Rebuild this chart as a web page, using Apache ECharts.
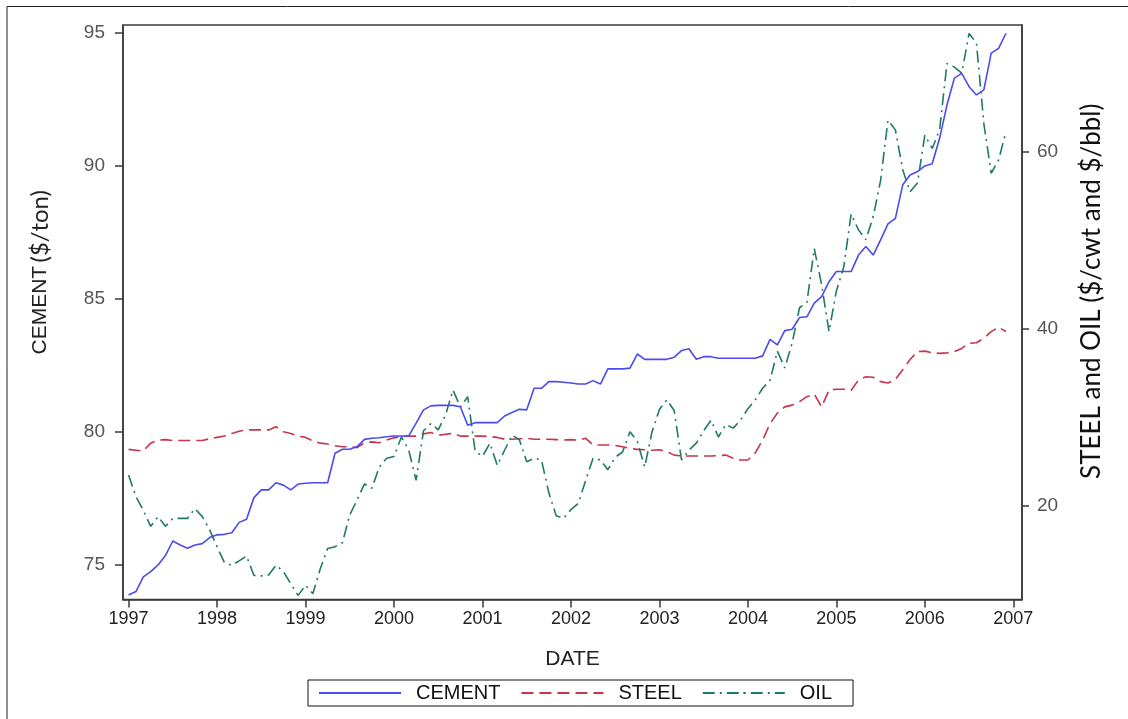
<!DOCTYPE html>
<html>
<head>
<meta charset="utf-8">
<script src="https://cdn.jsdelivr.net/npm/echarts@6/dist/echarts.min.js"></script>
<style>
  html, body { margin: 0; padding: 0; background: #fff; }
  #chart { width: 1128px; height: 719px; }
</style>
</head>
<body>
<div id="chart"></div>
<script>
// Monthly prices, January 1997 through December 2006
const startYear = 1997;
const monthCount = 120;

// Cement, $/ton (left axis)
const cement = [
  73.87, 74.0, 74.55, 74.75, 75.0, 75.35, 75.9, 75.75, 75.63, 75.75, 75.8, 76.03,
  76.13, 76.15, 76.21, 76.6, 76.72, 77.53, 77.82, 77.82, 78.09, 78.0, 77.82, 78.04,
  78.07, 78.09, 78.09, 78.09, 79.2, 79.35, 79.35, 79.45, 79.72, 79.76, 79.78, 79.82,
  79.85, 79.85, 79.85, 80.33, 80.83, 80.98, 81.0, 81.0, 81.0, 80.95, 80.25, 80.35,
  80.35, 80.35, 80.35, 80.6, 80.73, 80.85, 80.83, 81.64, 81.64, 81.89, 81.89, 81.87,
  81.84, 81.8, 81.8, 81.93, 81.8, 82.37, 82.37, 82.37, 82.4, 82.93, 82.73, 82.73,
  82.73, 82.73, 82.81, 83.06, 83.13, 82.73, 82.83, 82.83, 82.77, 82.77, 82.77, 82.77,
  82.77, 82.77, 82.86, 83.48, 83.27, 83.81, 83.86, 84.3, 84.33, 84.84, 85.09, 85.65,
  86.03, 86.03, 86.03, 86.65, 86.97, 86.65, 87.22, 87.82, 88.03, 89.29, 89.66, 89.79,
  90.0, 90.08, 91.04, 92.29, 93.3, 93.48, 92.98, 92.67, 92.86, 94.24, 94.42, 94.99
];

// Steel, $/cwt (right axis)
const steel = [
  26.4, 26.3, 26.2, 27.1, 27.45, 27.5, 27.4, 27.4, 27.4, 27.4, 27.4, 27.6,
  27.75, 27.9, 28.2, 28.45, 28.6, 28.6, 28.6, 28.6, 28.95, 28.4, 28.2, 27.9,
  27.75, 27.35, 27.1, 27.0, 26.8, 26.7, 26.7, 26.6, 27.15, 27.25, 27.15, 27.45,
  27.7, 27.85, 27.9, 27.9, 28.15, 28.3, 28.0, 28.1, 28.2, 27.9, 27.9, 27.9,
  27.9, 27.85, 27.75, 27.55, 27.55, 27.6, 27.65, 27.55, 27.55, 27.55, 27.5, 27.45,
  27.5, 27.45, 27.65, 26.9, 26.9, 26.9, 26.85, 26.7, 26.5, 26.4, 26.35, 26.3,
  26.35, 26.15, 25.75, 25.65, 25.65, 25.65, 25.65, 25.65, 25.7, 25.75, 25.4, 25.2,
  25.2, 26.0, 27.45, 29.3, 30.5, 31.2, 31.4, 31.8, 32.35, 32.65, 31.2, 33.1,
  33.2, 33.2, 33.05, 34.25, 34.6, 34.55, 34.05, 33.9, 34.3, 35.4, 36.55, 37.45,
  37.5, 37.3, 37.25, 37.3, 37.45, 37.8, 38.4, 38.45, 38.95, 39.7, 40.2, 39.7
];

// Crude oil, $/bbl (right axis)
const oil = [
  23.5, 21.05, 19.5, 17.7, 18.8, 17.7, 18.6, 18.6, 18.6, 19.7, 18.8, 17.3,
  15.4, 13.6, 13.3, 13.8, 14.35, 12.15, 12.1, 12.2, 13.3, 12.6, 11.2, 9.9,
  11.05, 10.1, 12.9, 15.2, 15.4, 15.85, 19.0, 20.7, 22.5, 22.0, 24.4, 25.4,
  25.6, 27.8, 26.3, 22.9, 28.5, 29.3, 28.6, 30.3, 33.1, 31.2, 32.35, 26.2,
  25.6, 27.1, 24.6, 26.3, 28.0, 27.5, 25.0, 25.4, 25.2, 21.5, 18.9, 18.6,
  19.6, 20.3, 22.9, 25.4, 25.2, 24.1, 25.5, 26.1, 28.4, 27.3, 24.4, 28.4,
  30.9, 32.0, 30.8, 25.2, 26.3, 27.1, 28.5, 29.7, 27.8, 29.2, 28.8, 29.7,
  31.0, 32.0, 33.3, 34.2, 37.5, 35.6, 38.4, 42.4, 43.0, 49.1, 45.0, 39.7,
  44.3, 47.0, 53.0, 51.2, 50.1, 52.7, 56.8, 63.6, 62.5, 58.0, 55.5, 56.5,
  61.9, 60.4, 62.5, 70.0, 69.6, 68.9, 73.4, 72.3, 63.2, 57.6, 59.1, 62.3
];

// Tick labels
const yearTicks = [1997, 1998, 1999, 2000, 2001, 2002, 2003, 2004, 2005, 2006, 2007];
const cementTicks = [75, 80, 85, 90, 95];
const steelOilTicks = [20, 40, 60];

// Decimal year for each month
const dates = [];
for (let i = 0; i < monthCount; i++) dates.push(startYear + i / 12);
const pairs = vals => vals.map((v, i) => [dates[i], v]);

const sans = '"Liberation Sans", Arial, sans-serif';
const calibriLike = 'Lato, Carlito, "Noto Sans", sans-serif';
const axisColor = '#3a3a3a';

const chart = echarts.init(document.getElementById('chart'), null, { renderer: 'canvas' });

chart.setOption({
  animation: false,
  backgroundColor: '#fff',
  graphic: [{
    type: 'polyline',
    shape: { points: [[7, 740], [7, 6.5], [1140, 6.5]] },
    style: { stroke: '#222', lineWidth: 1, fill: null },
    silent: true
  }],
  grid: {
    left: 123, top: 25, right: 106, bottom: 119.5,
    show: true, borderColor: axisColor, borderWidth: 1.5, backgroundColor: 'transparent'
  },
  legend: {
    left: 308, top: 680,
    orient: 'horizontal',
    itemWidth: 82, itemHeight: 2, itemGap: 20,
    padding: [3, 21, 3, 10],
    borderColor: '#111', borderWidth: 1, borderRadius: 0,
    formatter: name => '{t|' + name + '}',
    textStyle: {
      rich: { t: { fontFamily: sans, fontSize: 20, color: '#111', padding: [0, 0, 0, 10], lineHeight: 22 } }
    },
    data: ['CEMENT', 'STEEL', 'OIL']
  },
  xAxis: {
    type: 'value',
    min: 1996.937, max: 2007.098,
    name: 'DATE', nameLocation: 'middle', nameGap: 49,
    nameTextStyle: { fontFamily: sans, fontSize: 21, color: '#222' },
    axisLine: { show: true, lineStyle: { color: axisColor, width: 1.5 } },
    axisTick: { show: true, length: 8, customValues: yearTicks, lineStyle: { color: axisColor, width: 1.5 } },
    axisLabel: { customValues: yearTicks, margin: 11, fontFamily: sans, fontSize: 18, color: '#222',
                 formatter: v => String(Math.round(v)) },
    splitLine: { show: false }
  },
  yAxis: [{
    type: 'value',
    min: 73.70, max: 95.30,
    position: 'left',
    name: '{a|CEMENT} {b|($/ton)}',
    nameLocation: 'middle', nameGap: 71, nameRotate: 90,
    nameTextStyle: {
      padding: [0, 0, 0, 80],
      rich: {
        a: { fontFamily: sans, fontSize: 21, color: '#222' },
        b: { fontFamily: calibriLike, fontSize: 24, color: '#222' }
      }
    },
    axisLine: { show: true, lineStyle: { color: axisColor, width: 1.5 } },
    axisTick: { show: true, length: 8, customValues: cementTicks, lineStyle: { color: axisColor, width: 1.5 } },
    axisLabel: { customValues: cementTicks, margin: 18, fontFamily: sans,
                 fontSize: 19, color: '#555' },
    splitLine: { show: false }
  }, {
    type: 'value',
    min: 9.435, max: 74.35,
    position: 'right',
    name: 'STEEL and OIL ($/cwt and $/bbl)',
    nameLocation: 'middle', nameGap: 57, nameRotate: 90,
    nameTextStyle: { fontFamily: calibriLike, fontSize: 26, color: '#111', padding: [0, 0, 0, 42] },
    axisLine: { show: true, lineStyle: { color: axisColor, width: 1.5 } },
    axisTick: { show: true, length: 7, customValues: steelOilTicks, lineStyle: { color: axisColor, width: 1.5 } },
    axisLabel: { customValues: steelOilTicks, margin: 15, fontFamily: sans,
                 fontSize: 19, color: '#555' },
    splitLine: { show: false }
  }],
  series: [{
    name: 'CEMENT', type: 'line', yAxisIndex: 0,
    data: pairs(cement), showSymbol: false, symbol: 'none',
    color: '#4b4bf0',
    lineStyle: { color: '#4b4bf0', width: 1.6, type: 'solid' },
    z: 3
  }, {
    name: 'STEEL', type: 'line', yAxisIndex: 1,
    data: pairs(steel), showSymbol: false, symbol: 'none',
    color: '#c8344a',
    lineStyle: { color: '#c8344a', width: 1.6, type: [12, 6] },
    z: 2
  }, {
    name: 'OIL', type: 'line', yAxisIndex: 1,
    data: pairs(oil), showSymbol: false, symbol: 'none',
    color: '#1f7a68',
    lineStyle: { color: '#1f7a68', width: 1.6, type: [12, 5, 2, 5] },
    z: 2
  }]
});
</script>
</body>
</html>
